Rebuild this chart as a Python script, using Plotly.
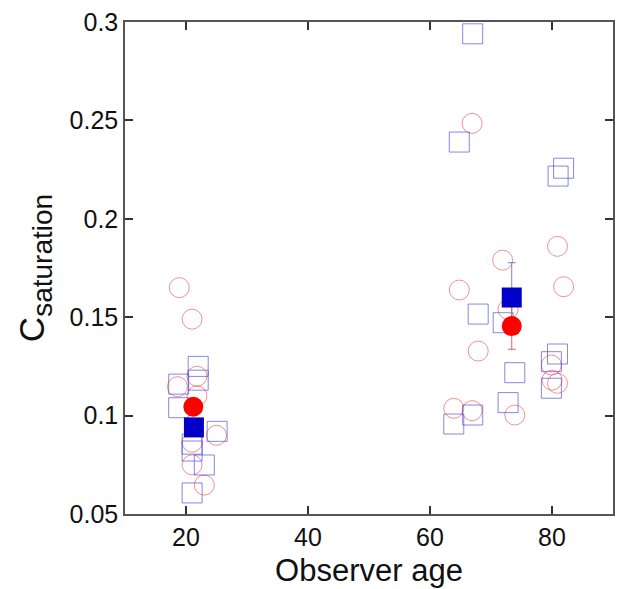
import plotly.graph_objects as go

# Individual observers: open squares (blue) and open circles (red)
sq_age = [22.0, 22.0, 18.8, 18.8, 25.1, 21.0, 21.0, 23.0, 21.0,
          67.0, 64.8, 81.9, 81.0, 67.9, 72.0, 80.9, 79.9, 79.9, 73.9, 72.8, 67.0, 63.9]
sq_val = [0.125, 0.118, 0.116, 0.104, 0.092, 0.0855, 0.082, 0.0749, 0.0607,
          0.294, 0.239, 0.2257, 0.2217, 0.1516, 0.1472, 0.1313, 0.1274, 0.1139, 0.1218, 0.1066, 0.1003, 0.0957]

ci_age = [18.9, 21.0, 21.8, 18.6, 21.8, 25.0, 21.0, 21.0, 23.0,
          66.9, 80.9, 71.9, 81.9, 64.8, 72.8, 67.9, 79.9, 80.0, 80.9, 73.9, 63.9, 66.9]
ci_val = [0.165, 0.149, 0.120, 0.1147, 0.110, 0.090, 0.0865, 0.075, 0.0647,
          0.2485, 0.186, 0.179, 0.1655, 0.1638, 0.154, 0.1328, 0.1257, 0.118, 0.1164, 0.1003, 0.1037, 0.1025]

# Group means with error bars
mean_sq_age = [21.3, 73.4]
mean_sq_val = [0.094, 0.160]
mean_sq_err = [0.004, 0.0177]

mean_ci_age = [21.2, 73.4]
mean_ci_val = [0.1045, 0.1455]
mean_ci_err = [0.004, 0.0118]

x_ticks = [20, 40, 60, 80]
y_ticks = [0.05, 0.1, 0.15, 0.2, 0.25, 0.3]
y_tick_text = ["0.05", "0.1", "0.15", "0.2", "0.25", "0.3"]

fig = go.Figure()

fig.add_trace(go.Scatter(
    x=ci_age, y=ci_val, mode="markers",
    marker=dict(symbol="circle-open", size=20, color="rgba(240,70,70,0.6)",
                line=dict(width=1, color="rgba(240,70,70,0.6)")),
    showlegend=False))

fig.add_trace(go.Scatter(
    x=sq_age, y=sq_val, mode="markers",
    marker=dict(symbol="square-open", size=20, color="rgba(70,70,215,0.65)",
                line=dict(width=1, color="rgba(70,70,215,0.65)")),
    showlegend=False))

# error bars first (so that the filled means sit on top of them)
fig.add_trace(go.Scatter(
    x=mean_sq_age, y=mean_sq_val, mode="markers",
    error_y=dict(type="data", array=mean_sq_err, color="rgba(110,110,220,0.9)",
                 thickness=1, width=4),
    marker=dict(size=1, color="rgba(0,0,0,0)"),
    showlegend=False, hoverinfo="skip"))

fig.add_trace(go.Scatter(
    x=mean_ci_age, y=mean_ci_val, mode="markers",
    error_y=dict(type="data", array=mean_ci_err, color="rgba(240,80,80,0.9)",
                 thickness=1, width=4),
    marker=dict(size=1, color="rgba(0,0,0,0)"),
    showlegend=False, hoverinfo="skip"))

fig.add_trace(go.Scatter(
    x=mean_ci_age, y=mean_ci_val, mode="markers",
    marker=dict(symbol="circle", size=20, color="#ff0000"),
    showlegend=False))

fig.add_trace(go.Scatter(
    x=mean_sq_age, y=mean_sq_val, mode="markers",
    marker=dict(symbol="square", size=20, color="#0000c8"),
    showlegend=False))

font_family = "Liberation Sans, Arial, Helvetica, sans-serif"

fig.update_layout(
    width=621, height=589,
    margin=dict(l=125, r=6, t=22, b=75),
    paper_bgcolor="white", plot_bgcolor="white",
    font=dict(family=font_family, color="#111111"),
    xaxis=dict(
        range=[10, 90], tickvals=x_ticks, ticks="inside", ticklen=8, tickwidth=1.5,
        tickcolor="#333333", showline=True, linecolor="#555555", linewidth=1.5,
        mirror="ticks", showgrid=False, zeroline=False,
        tickfont=dict(size=25, family=font_family),
        title=dict(text="Observer age", font=dict(size=31, family=font_family), standoff=10),
    ),
    yaxis=dict(
        range=[0.05, 0.3], tickvals=y_ticks, ticktext=y_tick_text, ticks="inside",
        ticklen=8, tickwidth=1.5, tickcolor="#333333", showline=True,
        linecolor="#555555", linewidth=1.5, mirror="ticks", showgrid=False,
        zeroline=False, tickfont=dict(size=25, family=font_family),
        title=dict(text="C<sub><span style='font-size:28px'>saturation</span></sub>",
                   font=dict(size=35, family=font_family), standoff=14),
    ),
)

fig.write_html("out.html")
